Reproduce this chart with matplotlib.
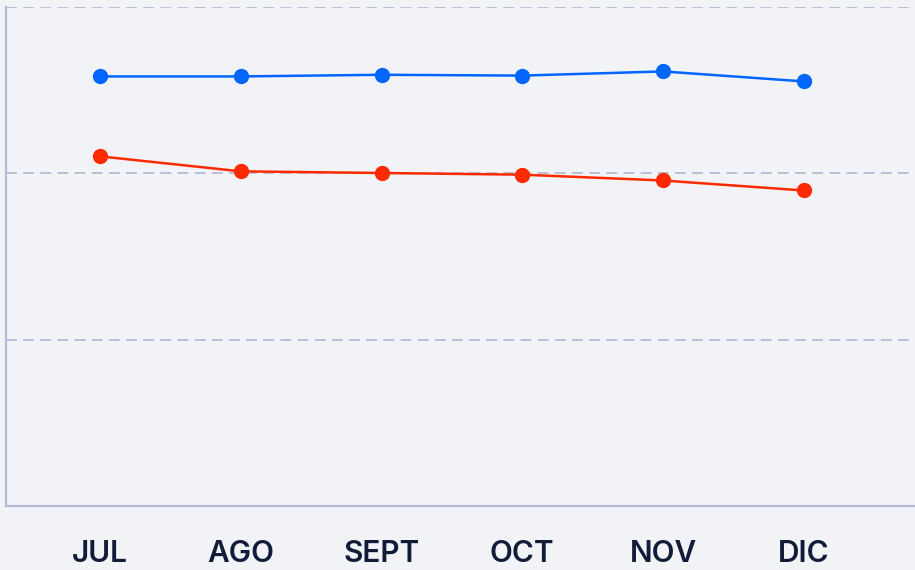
import matplotlib
matplotlib.use("Agg")
from matplotlib import pyplot as plt

months = ["JUL", "AGO", "SEPT", "OCT", "NOV", "DIC"]
blue_values = [25.8, 25.8, 25.9, 25.85, 26.1, 25.5]
red_values = [21.0, 20.1, 20.0, 19.9, 19.55, 18.95]

BG = "#f2f3f7"
GRID = "#b5bbd4"
TEXT = "#101c38"

fig = plt.figure(figsize=(9.15, 5.7), dpi=100)
fig.patch.set_facecolor(BG)
ax = fig.add_axes([6 / 915, 64 / 570, 909 / 915, 499.5 / 570])
ax.set_facecolor(BG)

x = list(range(len(months)))
ax.plot(x, blue_values, color="#0066ff", linewidth=1.8, marker="o",
        markersize=10, zorder=3)
ax.plot(x, red_values, color="#ff2a00", linewidth=1.8, marker="o",
        markersize=10, zorder=3)

ax.set_xlim(-0.668, 5.79)
ax.set_ylim(0, 30)
ax.set_yticks([0, 10, 20, 30])
ax.yaxis.grid(True, color=GRID, linestyle=(0, (6, 3.5)), linewidth=1.3)
ax.set_axisbelow(True)
ax.tick_params(axis="y", left=False, labelleft=False)

ax.set_xticks(x)
ax.set_xticklabels(months)
ax.tick_params(axis="x", bottom=False, pad=21, labelsize=21.5, labelcolor=TEXT)
for lbl in ax.get_xticklabels():
    lbl.set_fontfamily(["Inter", "DejaVu Sans"])
    lbl.set_fontweight("semibold")

for side in ["top", "right"]:
    ax.spines[side].set_visible(False)
for side in ["left", "bottom"]:
    ax.spines[side].set_color(GRID)
    ax.spines[side].set_linewidth(1.6)

fig.savefig("out.png", dpi=100, facecolor=BG)
